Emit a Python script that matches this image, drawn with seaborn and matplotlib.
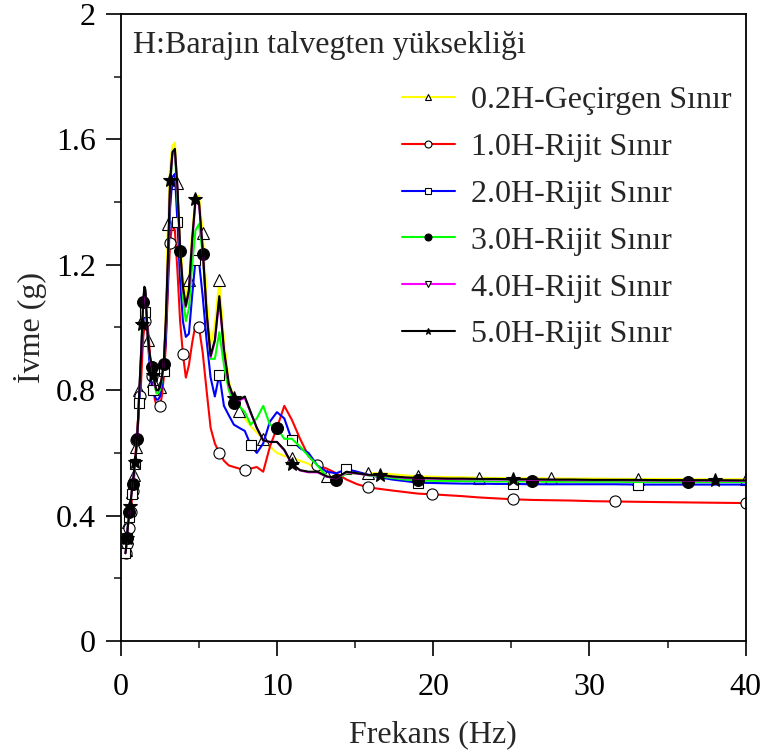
import matplotlib
matplotlib.use("Agg")
import pandas as pd
import matplotlib.pyplot as plt
from matplotlib.lines import Line2D
from matplotlib.ticker import MultipleLocator, FuncFormatter
import seaborn as sns

# --- data ---
FREQ = [0.302, 0.316, 0.331, 0.347, 0.363, 0.380, 0.398, 0.417, 0.437, 0.457,
        0.479, 0.501, 0.525, 0.550, 0.575, 0.603, 0.631, 0.661, 0.692, 0.724,
        0.759, 0.794, 0.832, 0.871, 0.912, 0.955, 1.000, 1.047, 1.096, 1.148,
        1.202, 1.259, 1.318, 1.380, 1.445, 1.514, 1.585, 1.660, 1.738, 1.820,
        1.905, 1.995, 2.089, 2.188, 2.291, 2.399, 2.512, 2.630, 2.754, 2.884,
        3.020, 3.162, 3.311, 3.467, 3.631, 3.802, 3.981, 4.169, 4.365, 4.571,
        4.786, 5.012, 5.248, 5.495, 5.754, 6.026, 6.310, 6.607, 6.918, 7.244,
        7.586, 7.943, 8.318, 8.710, 9.120, 9.550, 10.00, 10.47, 10.96, 11.48,
        12.02, 12.59, 13.18, 13.80, 14.45, 15.14, 15.85, 16.60, 17.38, 18.20,
        19.05, 19.95, 20.89, 21.88, 22.91, 23.99, 25.12, 26.30, 27.54, 28.84,
        30.20, 31.62, 33.11, 34.67, 36.31, 38.02, 40.00]

VAL_02H = [0.280, 0.285, 0.290, 0.300, 0.310, 0.320, 0.330, 0.345, 0.355, 0.365,
           0.380, 0.390, 0.400, 0.410, 0.425, 0.435, 0.445, 0.460, 0.475, 0.490,
           0.505, 0.515, 0.530, 0.550, 0.570, 0.590, 0.620, 0.650, 0.690, 0.750,
           0.800, 0.860, 0.920, 0.980, 1.030, 1.050, 1.040, 1.010, 0.960, 0.920,
           0.890, 0.860, 0.830, 0.810, 0.800, 0.800, 0.810, 0.840, 0.890, 1.050,
           1.330, 1.520, 1.580, 1.590, 1.460, 1.280, 1.160, 1.090, 1.150, 1.300,
           1.420, 1.420, 1.300, 1.100, 0.940, 1.010, 1.150, 0.960, 0.830, 0.770,
           0.735, 0.710, 0.685, 0.665, 0.645, 0.620, 0.600, 0.590, 0.585, 0.575,
           0.565, 0.545, 0.525, 0.525, 0.535, 0.535, 0.535, 0.535, 0.532, 0.528,
           0.525, 0.524, 0.523, 0.522, 0.521, 0.520, 0.520, 0.519, 0.519, 0.518,
           0.518, 0.517, 0.517, 0.517, 0.516, 0.516, 0.516]

VAL_10H = [0.280, 0.282, 0.285, 0.290, 0.295, 0.300, 0.310, 0.320, 0.330, 0.340,
           0.350, 0.360, 0.370, 0.380, 0.390, 0.400, 0.410, 0.425, 0.440, 0.455,
           0.470, 0.480, 0.500, 0.530, 0.560, 0.600, 0.640, 0.670, 0.700, 0.730,
           0.760, 0.780, 0.840, 0.910, 0.970, 1.000, 1.020, 1.030, 1.000, 0.950,
           0.890, 0.845, 0.800, 0.770, 0.750, 0.740, 0.750, 0.780, 0.840, 0.940,
           1.120, 1.270, 1.340, 1.310, 1.180, 1.020, 0.915, 0.840, 0.880, 0.950,
           1.010, 1.000, 0.920, 0.800, 0.680, 0.630, 0.600, 0.575, 0.560, 0.555,
           0.550, 0.545, 0.550, 0.555, 0.540, 0.620, 0.680, 0.750, 0.705, 0.645,
           0.590, 0.560, 0.550, 0.535, 0.515, 0.500, 0.490, 0.485, 0.480, 0.475,
           0.470, 0.468, 0.465, 0.462, 0.458, 0.455, 0.452, 0.450, 0.449, 0.448,
           0.446, 0.445, 0.444, 0.443, 0.442, 0.441, 0.440]

VAL_20H = [0.280, 0.285, 0.290, 0.300, 0.310, 0.320, 0.330, 0.340, 0.355, 0.365,
           0.375, 0.385, 0.395, 0.410, 0.420, 0.430, 0.440, 0.455, 0.470, 0.485,
           0.500, 0.515, 0.530, 0.550, 0.565, 0.585, 0.610, 0.640, 0.680, 0.720,
           0.760, 0.840, 0.920, 0.980, 1.020, 1.040, 1.050, 1.020, 0.960, 0.900,
           0.850, 0.810, 0.800, 0.780, 0.770, 0.770, 0.780, 0.810, 0.860, 0.960,
           1.150, 1.380, 1.480, 1.490, 1.335, 1.150, 1.020, 0.970, 0.980, 1.100,
           1.215, 1.210, 1.100, 0.960, 0.840, 0.780, 0.850, 0.750, 0.720, 0.690,
           0.680, 0.670, 0.625, 0.600, 0.630, 0.700, 0.730, 0.710, 0.640, 0.615,
           0.600, 0.560, 0.540, 0.535, 0.548, 0.540, 0.530, 0.522, 0.515, 0.510,
           0.505, 0.504, 0.503, 0.502, 0.502, 0.501, 0.501, 0.500, 0.500, 0.500,
           0.500, 0.500, 0.499, 0.499, 0.499, 0.499, 0.499]

VAL_30H = [0.280, 0.285, 0.290, 0.300, 0.310, 0.320, 0.330, 0.340, 0.355, 0.365,
           0.375, 0.385, 0.395, 0.410, 0.420, 0.430, 0.440, 0.455, 0.470, 0.485,
           0.500, 0.515, 0.530, 0.550, 0.570, 0.590, 0.615, 0.645, 0.690, 0.750,
           0.810, 0.870, 0.940, 1.020, 1.080, 1.120, 1.110, 1.030, 0.960, 0.920,
           0.890, 0.875, 0.840, 0.810, 0.790, 0.790, 0.800, 0.830, 0.885, 1.000,
           1.200, 1.450, 1.550, 1.560, 1.410, 1.245, 1.100, 1.020, 1.060, 1.200,
           1.310, 1.330, 1.235, 1.050, 0.900, 0.900, 0.985, 0.880, 0.800, 0.760,
           0.750, 0.730, 0.690, 0.710, 0.750, 0.690, 0.680, 0.645, 0.645, 0.620,
           0.590, 0.560, 0.525, 0.515, 0.535, 0.535, 0.528, 0.525, 0.520, 0.515,
           0.512, 0.511, 0.511, 0.510, 0.510, 0.509, 0.509, 0.509, 0.508, 0.508,
           0.508, 0.508, 0.507, 0.507, 0.507, 0.507, 0.507]

VAL_40H = [0.280, 0.285, 0.290, 0.300, 0.310, 0.320, 0.330, 0.340, 0.355, 0.365,
           0.375, 0.385, 0.395, 0.410, 0.420, 0.430, 0.440, 0.455, 0.470, 0.485,
           0.500, 0.515, 0.530, 0.550, 0.570, 0.590, 0.620, 0.650, 0.690, 0.750,
           0.810, 0.870, 0.930, 1.000, 1.080, 1.120, 1.110, 1.030, 0.965, 0.925,
           0.895, 0.875, 0.845, 0.815, 0.800, 0.800, 0.810, 0.840, 0.885, 1.010,
           1.210, 1.460, 1.555, 1.565, 1.440, 1.245, 1.125, 1.065, 1.115, 1.270,
           1.400, 1.395, 1.245, 1.045, 0.905, 0.955, 1.090, 0.925, 0.815, 0.772,
           0.768, 0.775, 0.728, 0.680, 0.640, 0.635, 0.635, 0.608, 0.563, 0.544,
           0.538, 0.538, 0.524, 0.519, 0.538, 0.534, 0.529, 0.528, 0.524, 0.520,
           0.519, 0.518, 0.517, 0.516, 0.516, 0.515, 0.515, 0.514, 0.514, 0.513,
           0.513, 0.513, 0.512, 0.512, 0.512, 0.511, 0.511]

VAL_50H = [0.280, 0.285, 0.290, 0.300, 0.310, 0.320, 0.330, 0.340, 0.355, 0.365,
           0.375, 0.385, 0.395, 0.410, 0.420, 0.430, 0.440, 0.455, 0.470, 0.485,
           0.500, 0.515, 0.530, 0.550, 0.570, 0.590, 0.620, 0.650, 0.690, 0.750,
           0.810, 0.870, 0.930, 1.010, 1.090, 1.130, 1.120, 1.040, 0.970, 0.930,
           0.900, 0.880, 0.850, 0.820, 0.800, 0.800, 0.810, 0.840, 0.885, 1.020,
           1.220, 1.470, 1.560, 1.570, 1.450, 1.250, 1.130, 1.070, 1.120, 1.280,
           1.410, 1.400, 1.250, 1.050, 0.910, 0.960, 1.100, 0.930, 0.820, 0.775,
           0.770, 0.780, 0.730, 0.680, 0.640, 0.635, 0.635, 0.610, 0.565, 0.545,
           0.540, 0.540, 0.525, 0.520, 0.540, 0.535, 0.530, 0.530, 0.525, 0.522,
           0.520, 0.519, 0.518, 0.518, 0.517, 0.517, 0.516, 0.516, 0.515, 0.515,
           0.514, 0.514, 0.514, 0.513, 0.513, 0.513, 0.512]

LABELS = ["0.2H-Geçirgen Sınır", "1.0H-Rijit Sınır", "2.0H-Rijit Sınır",
          "3.0H-Rijit Sınır", "4.0H-Rijit Sınır", "5.0H-Rijit Sınır"]
SERIES = [VAL_02H, VAL_10H, VAL_20H, VAL_30H, VAL_40H, VAL_50H]
NOTE = "H:Barajın talvegten yüksekliği"

# --- styling ---
COLORS = ["#ffff00", "#ff0000", "#0000ff", "#00ff00", "#ff00ff", "#000000"]
MARKERS = ["^", "o", "s", "o", "v", "*"]
FACES = ["white", "white", "white", "black", "white", "black"]
SIZES = [8, 8, 7.5, 8.5, 7, 10]
# the 4.0H markers sit hidden under the 5.0H curve in the original
MARK_EVERY = [(2, 4), (1, 5), (0, 6), (6, 7), [], (6, 9)]

sns.set_style("ticks")
plt.rcParams["font.family"] = ["Liberation Serif", "DejaVu Serif"]
plt.rcParams["font.size"] = 23

df = pd.DataFrame({"Frekans": FREQ})
for lab, vals in zip(LABELS, SERIES):
    df[lab] = vals

fig = plt.figure(figsize=(7.64, 7.52), dpi=100)
ax = fig.add_axes([0.158, 0.1476, 0.818, 0.8338])

for lab, c, mk, fc, ms, me in zip(LABELS, COLORS, MARKERS, FACES, SIZES, MARK_EVERY):
    sns.lineplot(data=df, x="Frekans", y=lab, ax=ax, color=c, lw=1.5,
                 marker=mk, markersize=ms, markerfacecolor=fc,
                 markeredgecolor="black", markeredgewidth=0.8,
                 markevery=me, legend=False)

ax.set_xlim(0, 40)
ax.set_ylim(0, 2)
ax.xaxis.set_major_locator(MultipleLocator(10))
ax.xaxis.set_minor_locator(MultipleLocator(5))
ax.yaxis.set_major_locator(MultipleLocator(0.4))
ax.yaxis.set_minor_locator(MultipleLocator(0.2))
ax.yaxis.set_major_formatter(FuncFormatter(lambda v, p: f"{v:g}"))
ax.tick_params(which="major", direction="out", length=11, width=1.2,
               labelsize=23, colors="black")
ax.tick_params(axis="x", which="major", pad=12)
ax.tick_params(axis="y", which="major", pad=7)
ax.tick_params(which="minor", direction="out", length=5, width=1.2)
for sp in ax.spines.values():
    sp.set_linewidth(1.3)
    sp.set_color("black")

ax.set_xlabel("Frekans (Hz)", fontsize=23, labelpad=13)
ax.set_ylabel("İvme (g)", fontsize=23, labelpad=6)

ax.text(0.019, 0.95, NOTE, transform=ax.transAxes, ha="left", va="center",
        fontsize=23)

handles = [Line2D([], [], color=c, lw=1.5, marker=mk, markersize=5,
                  markerfacecolor=fc, markeredgecolor="black",
                  markeredgewidth=0.8)
           for c, mk, fc in zip(COLORS, MARKERS, FACES)]
ax.legend(handles, LABELS, loc="upper left", bbox_to_anchor=(0.45, 0.886),
          frameon=False, fontsize=23, handlelength=1.65, handletextpad=0.5,
          labelspacing=0.55, borderpad=0, borderaxespad=0)

fig.savefig("out.png", dpi=100)
